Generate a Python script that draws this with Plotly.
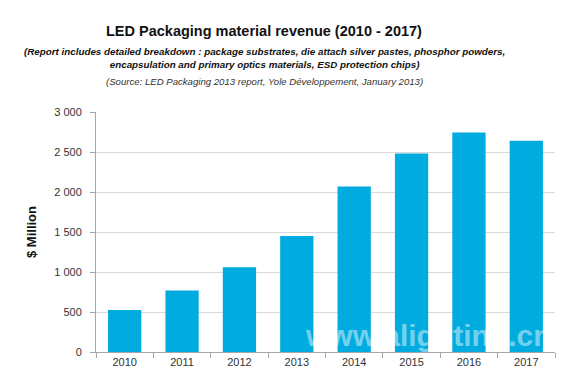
import plotly.graph_objects as go

years = ["2010", "2011", "2012", "2013", "2014", "2015", "2016", "2017"]
revenue = [525, 770, 1060, 1450, 2070, 2480, 2745, 2640]
y_ticks = [0, 500, 1000, 1500, 2000, 2500, 3000]

title_text = "LED Packaging material revenue (2010 - 2017)"
subtitle_text = ("(Report includes detailed breakdown : package substrates, die attach silver pastes, phosphor powders,"
                 "<br>encapsulation and primary optics materials, ESD protection chips)")
source_text = "(Source: LED Packaging 2013 report, Yole Développement, January 2013)"

font_family = "Liberation Sans, Arial, sans-serif"

fig = go.Figure()
fig.add_trace(go.Bar(x=years, y=revenue, marker=dict(color="#00ABDF", line=dict(width=0)),
                     hoverinfo="x+y"))

fig.update_layout(
    width=586, height=381,
    margin=dict(l=88, r=39, t=104, b=37),
    paper_bgcolor="white", plot_bgcolor="white",
    bargap=0.42,
    showlegend=False,
    separators=". ",
    font=dict(family=font_family, color="#333333", size=11),
)
fig.update_xaxes(
    type="category", showline=True, linecolor="#a6a6a6", linewidth=1,
    ticks="outside", tickson="boundaries", ticklen=5, tickcolor="#a6a6a6",
    showgrid=False, tickfont=dict(size=11, color="#333333"),
)
fig.update_yaxes(
    range=[0, 3000], tickvals=y_ticks, tickformat=",d",
    showline=True, linecolor="#a6a6a6", linewidth=1,
    ticks="outside", ticklen=5, tickcolor="#a6a6a6",
    ticklabelstandoff=6,
    showgrid=True, gridcolor="#d9d9d9", gridwidth=1,
    zeroline=False, tickfont=dict(size=11, color="#333333"),
    title=dict(text="<b>$ Million</b>", font=dict(size=13, color="#111111"), standoff=14),
)

cx = (264 - 96) / 459
fig.add_annotation(text="<b>" + title_text + "</b>", xref="paper", yref="paper",
                   x=cx, y=1.0 + (112 - 31) / 240, xanchor="center", yanchor="middle",
                   showarrow=False, font=dict(size=14.5, color="#111111", family=font_family))
fig.add_annotation(text="<b><i>" + subtitle_text + "</i></b>", xref="paper", yref="paper",
                   x=cx, y=1.0 + (112 - 57.5) / 240, xanchor="center", yanchor="middle",
                   showarrow=False, align="center",
                   font=dict(size=9.8, color="#111111", family=font_family))
fig.add_annotation(text="<i>" + source_text + "</i>", xref="paper", yref="paper",
                   x=cx, y=1.0 + (112 - 81) / 240, xanchor="center", yanchor="middle",
                   showarrow=False, font=dict(size=9.6, color="#333333", family=font_family))
fig.add_annotation(text="<b>www.alighting.cn</b>", xref="paper", yref="paper",
                   x=(428 - 96) / 459, y=(352 - 335) / 240, xanchor="center", yanchor="middle",
                   showarrow=False, opacity=0.45,
                   font=dict(size=30, color="#ffffff", family=font_family))

fig.write_html("out.html")
